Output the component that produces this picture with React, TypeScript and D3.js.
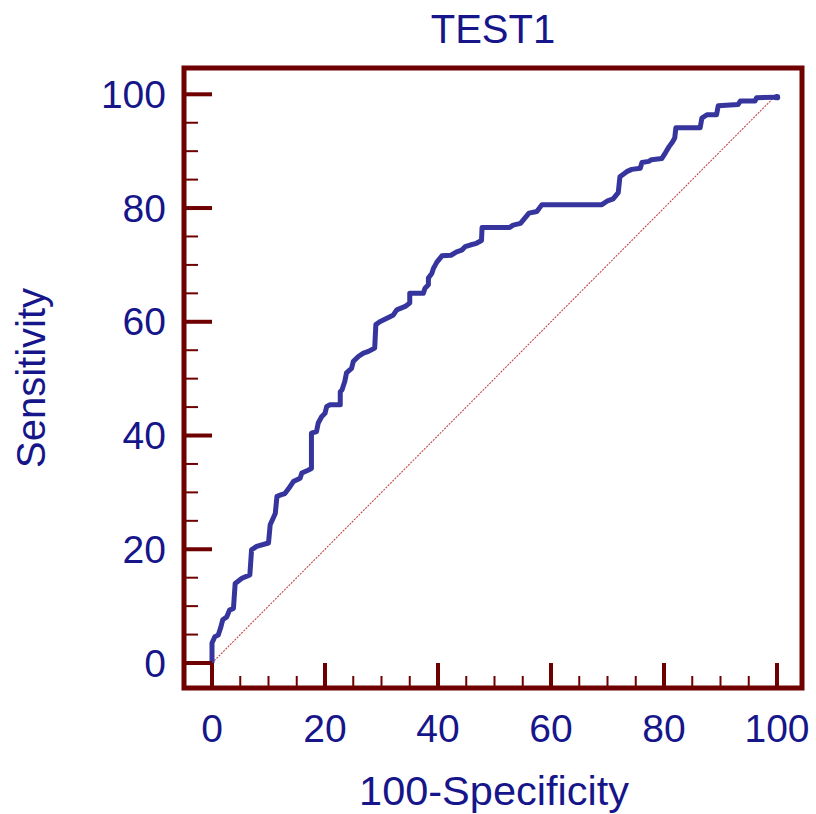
import React from "react";
import * as d3 from "d3";

const title = "TEST1";
const xLabel = "100-Specificity";
const yLabel = "Sensitivity";
const majorTicks = [0, 20, 40, 60, 80, 100];
const minorTicks = [5, 10, 15, 25, 30, 35, 45, 50, 55, 65, 70, 75, 85, 90, 95];

// ROC curve points (100-Specificity, Sensitivity)
const fpr = [
  0, 0, 0.5, 1.1, 1.5, 1.9, 2.6, 3.1, 3.8, 4.1, 5.3, 6.7, 7.0, 7.9, 10.0, 10.3, 11.2, 11.5, 12.3, 12.9,
  13.8, 14.4, 15.6, 15.9, 17.0, 17.6, 17.6, 18.5, 18.8, 19.4, 20.0, 20.3, 20.9, 22.7, 22.7, 23.0, 23.5,
  23.8, 24.7, 25.0, 25.9, 26.8, 27.7, 28.8, 29.0, 29.7, 31.5, 32.1, 32.7, 34.2, 35.0, 35.0, 37.4, 37.7,
  38.3, 38.3, 38.9, 39.2, 39.8, 40.7, 42.3, 43.3, 44.2, 44.8, 45.7, 46.8, 47.7, 47.8, 52.7, 53.3, 54.6,
  56.1, 57.5, 58.4, 69.0, 69.9, 71.0, 71.9, 72.2, 73.4, 74.3, 75.8, 76.1, 77.3, 77.8, 79.6, 80.3, 80.9,
  81.5, 81.9, 82.1, 86.4, 86.7, 87.6, 89.3, 89.6, 93.1, 93.5, 96.1, 96.4, 100,
];
const sens = [
  0, 3.5, 4.6, 4.9, 6.1, 7.6, 8.1, 9.3, 9.6, 14.0, 14.9, 15.5, 19.9, 20.5, 21.1, 24.3, 26.3, 29.3, 29.6, 29.8,
  31.0, 31.9, 32.5, 33.4, 33.9, 34.2, 40.4, 40.7, 42.2, 43.3, 43.9, 45.1, 45.4, 45.4, 47.7, 48.0, 49.5,
  51.0, 51.8, 53.0, 53.9, 54.5, 54.8, 55.4, 59.5, 60.0, 60.9, 61.2, 62.1, 62.7, 63.3, 65.0, 65.0, 65.9,
  66.5, 67.7, 68.5, 69.4, 70.5, 71.6, 71.7, 72.3, 72.6, 73.2, 73.5, 73.8, 74.3, 76.6, 76.6, 77.0, 77.3,
  79.1, 79.4, 80.6, 80.6, 81.2, 81.6, 82.7, 85.5, 86.4, 86.8, 87.0, 88.0, 88.2, 88.5, 88.7, 89.8, 90.8,
  91.6, 92.3, 94.1, 94.1, 95.8, 96.4, 96.4, 98.0, 98.2, 98.8, 98.8, 99.4, 99.5,
];

const W = 816;
const H = 814;
const frame = { left: 184, right: 802, top: 68, bottom: 688 };
const FRAME_COLOR = "#6e0000";
const TEXT_COLOR = "#16168a";
const CURVE_COLOR = "#35359d";
const FONT = "'Liberation Sans', Arial, sans-serif";
const FS = 39;

export default function App() {
  const x = d3.scaleLinear().domain([0, 100]).range([212, 777]);
  const y = d3.scaleLinear().domain([0, 100]).range([663, 94.3]);
  const pts: [number, number][] = fpr.map((v, i) => [v, sens[i]]);
  const line = d3
    .line<[number, number]>()
    .x((d) => x(d[0]))
    .y((d) => y(d[1]));

  return (
    <div style={{ position: "absolute", left: 0, top: 0 }}>
      <svg width={W} height={H} style={{ display: "block", background: "#fff" }}>
        <rect x={0} y={0} width={W} height={H} fill="#fff" />
        {/* title */}
        <text x={(frame.left + frame.right) / 2} y={43} textAnchor="middle" fontFamily={FONT} fontSize={40} fill={TEXT_COLOR}>
          {title}
        </text>
        {/* diagonal */}
        <line
          x1={x(0)}
          y1={y(0)}
          x2={x(100)}
          y2={y(100)}
          stroke="#c04848"
          strokeWidth={1.1}
          strokeDasharray="2 1.2"
        />
        {/* curve */}
        <path d={line(pts) || ""} fill="none" stroke={CURVE_COLOR} strokeWidth={5} strokeLinejoin="round" strokeLinecap="butt" />
        <circle cx={x(fpr[fpr.length - 1])} cy={y(sens[sens.length - 1])} r={3.2} fill={CURVE_COLOR} />
        {/* y ticks */}
        {majorTicks.map((t) => (
          <line key={"ym" + t} x1={frame.left} x2={x(0)} y1={y(t)} y2={y(t)} stroke={FRAME_COLOR} strokeWidth={4} />
        ))}
        {minorTicks.map((t) => (
          <line key={"yn" + t} x1={frame.left} x2={frame.left + 14} y1={y(t)} y2={y(t)} stroke={FRAME_COLOR} strokeWidth={2} />
        ))}
        {/* x ticks */}
        {majorTicks.map((t) => (
          <line key={"xm" + t} x1={x(t)} x2={x(t)} y1={frame.bottom} y2={y(0)} stroke={FRAME_COLOR} strokeWidth={4} />
        ))}
        {minorTicks.map((t) => (
          <line key={"xn" + t} x1={x(t)} x2={x(t)} y1={frame.bottom} y2={frame.bottom - 12} stroke={FRAME_COLOR} strokeWidth={2} />
        ))}
        {/* frame */}
        <rect
          x={frame.left}
          y={frame.top}
          width={frame.right - frame.left}
          height={frame.bottom - frame.top}
          fill="none"
          stroke={FRAME_COLOR}
          strokeWidth={5}
        />
        {/* tick labels */}
        {majorTicks.map((t) => (
          <text key={"yl" + t} x={166} y={y(t) + 13.5} textAnchor="end" fontFamily={FONT} fontSize={FS} fill={TEXT_COLOR}>
            {t}
          </text>
        ))}
        {majorTicks.map((t) => (
          <text key={"xl" + t} x={x(t)} y={742} textAnchor="middle" fontFamily={FONT} fontSize={FS} fill={TEXT_COLOR}>
            {t}
          </text>
        ))}
        {/* axis titles */}
        <text x={494} y={805} textAnchor="middle" fontFamily={FONT} fontSize={41.5} fill={TEXT_COLOR}>
          {xLabel}
        </text>
        <text
          transform={`translate(45, ${(frame.top + frame.bottom) / 2}) rotate(-90)`}
          textAnchor="middle"
          fontFamily={FONT}
          fontSize={40}
          fill={TEXT_COLOR}
        >
          {yLabel}
        </text>
      </svg>
    </div>
  );
}
